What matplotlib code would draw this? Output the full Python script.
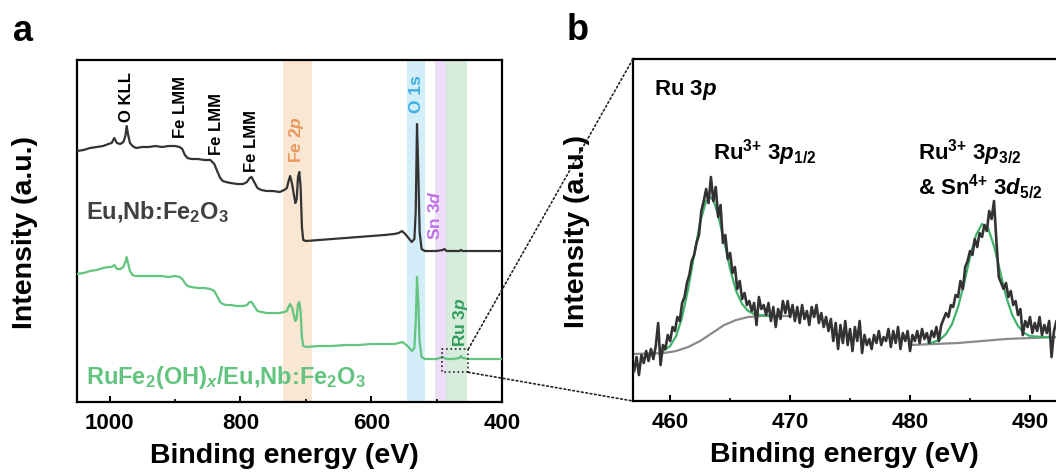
import numpy as np
import matplotlib
matplotlib.use("Agg")
import matplotlib.pyplot as plt
from matplotlib.patches import Rectangle, ConnectionPatch
from matplotlib.ticker import MultipleLocator

plt.rcParams["font.family"] = ["Liberation Sans", "DejaVu Sans"]
plt.rcParams["font.weight"] = "bold"
plt.rcParams["axes.labelweight"] = "bold"
plt.rcParams["mathtext.fontset"] = "custom"
plt.rcParams["mathtext.rm"] = "Liberation Sans:bold"
plt.rcParams["mathtext.it"] = "Liberation Sans:bold:italic"
plt.rcParams["mathtext.bf"] = "Liberation Sans:bold"

# ---- panel a: survey spectra (intensity in arbitrary units) ----
be_survey = [1050, 1040, 1030, 1020, 1010, 1002, 997, 993, 989, 984, 979, 976, 974, 972,
             969, 965, 960, 950, 940, 930, 920, 910, 900, 893, 889, 885, 881, 875, 865,
             855, 846, 840, 835, 831, 827, 822, 815, 805, 796, 790, 786, 783, 779, 774,
             768, 760, 750, 740, 733, 729, 726, 724, 721, 718, 716, 714, 712, 710, 708,
             706, 704, 700, 680, 660, 640, 620, 600, 580, 565, 558, 553, 548, 543, 538,
             534, 532, 530, 528, 526, 523, 518, 510, 500, 491, 488, 485, 475, 465, 463,
             460, 450, 430, 410, 400]
int_bare = [251, 252, 254, 255, 256, 258, 259, 264, 259, 258, 260, 266, 276, 268,
            259, 256, 254, 255, 255, 256, 255, 256, 256, 255, 253, 247, 244, 243, 243,
            242, 242, 238, 230, 224, 221, 220, 219, 218, 218, 220, 224, 225, 220, 214,
            212, 211, 211, 210, 212, 214, 222, 226, 218, 206, 199, 203, 225, 230, 215,
            175, 162, 161, 162, 163, 164, 165, 166, 167, 168, 169, 171, 168, 164, 160,
            163, 190, 278, 230, 170, 153, 151, 151, 151, 152, 153, 151, 151, 151, 152,
            151, 151, 151, 151, 151]
int_ru = [128, 129, 131, 132, 134, 135, 135, 137, 133, 133, 135, 140, 145, 139,
          131, 127, 126, 126, 126, 126, 126, 125, 126, 125, 123, 119, 116, 115, 114,
          114, 113, 111, 105, 100, 98, 97, 97, 96, 96, 97, 100, 100, 96, 91,
          90, 89, 89, 89, 90, 91, 96, 98, 94, 86, 81, 84, 98, 100, 90,
          65, 56, 55, 56, 56, 57, 57, 58, 58, 58, 59, 60, 58, 55, 51,
          54, 80, 125, 100, 60, 45, 43, 43, 43, 45, 44, 43, 43, 44, 46,
          44, 43, 43, 43, 43]

bands = [("Fe 2$p$", 735, 691, "#f9e2cc", "#e8985a", 714, 240),
         ("O 1s", 546, 518, "#cdebf8", "#3caee3", 530.5, 290),
         ("Sn 3$d$", 503, 482, "#ecd8f6", "#bf6fe6", 502.5, 163),
         ("Ru 3$p$", 486, 454, "#cfe9d7", "#2f9d5a", 464, 56)]
peak_labels = [("O KLL", 974, 281), ("Fe LMM", 892, 265),
               ("Fe LMM", 836, 248), ("Fe LMM", 783, 231)]

# ---- panel b: Ru 3p high-resolution scan ----
be_hr = np.round(np.arange(457.0, 492.5, 0.2), 1)
int_hr = [30, 44, 26, 46, 38, 50, 40, 52, 42, 55, 78, 36, 56, 52, 66, 60, 74, 70, 84, 80,
          98, 104, 118, 126, 140, 146, 158, 166, 190, 200, 212, 198, 224, 200, 214, 184, 196, 158, 166, 142,
          148, 128, 134, 112, 120, 102, 108, 96, 100, 90, 98, 76, 104, 92, 96, 86, 98, 80, 94, 74,
          92, 82, 100, 88, 100, 84, 96, 80, 94, 78, 96, 82, 90, 76, 94, 84, 96, 78, 88, 74,
          84, 70, 82, 60, 78, 52, 76, 58, 80, 56, 72, 50, 74, 60, 80, 48, 66, 56, 62, 52,
          66, 58, 70, 56, 64, 60, 72, 54, 70, 58, 74, 52, 68, 60, 70, 50, 66, 60, 70, 58,
          72, 62, 68, 58, 70, 64, 74, 60, 76, 82, 88, 84, 96, 94, 106, 104, 120, 112, 134, 140,
          150, 146, 162, 154, 168, 164, 176, 170, 190, 182, 200, 160, 124, 118, 112, 118, 104, 110, 96, 100,
          86, 92, 66, 80, 74, 84, 68, 78, 70, 84, 66, 76, 68, 80, 44, 70, 80, 66]

bg1_be = [456.9, 459.5, 460.5, 461.5, 462.5, 463.5, 464.5, 465.5, 466.5, 467.5, 470.0]
bg1_int = [47, 48, 50, 54, 60, 68, 76, 81, 84, 85, 85]
bg2_be = [480.0, 482.0, 484.0, 486.0, 488.0, 490.0, 492.5]
bg2_int = [56, 57, 58, 60, 62, 63, 64]
fit1_be = [459.3, 460.0, 460.5, 461.0, 461.5, 462.0, 462.5, 463.0, 463.3, 463.6, 464.0,
           464.5, 465.0, 465.5, 466.0, 466.5, 467.0, 467.5, 468.0, 468.5]
fit1_int = [49, 55, 65, 84, 112, 146, 179, 200, 204, 201, 186,
            160, 132, 110, 97, 90, 87, 86, 85.5, 85]
fit2_be = [481.5, 482.0, 482.5, 483.0, 483.5, 484.0, 484.5, 485.0, 485.5, 486.0, 486.5,
           487.0, 487.5, 488.0, 488.5, 489.0, 489.5, 490.0, 491.0, 491.5]
fit2_int = [57.5, 59, 61.5, 67, 77, 94, 117, 144, 166, 177, 173,
            155, 130, 105, 86.5, 75, 68, 65, 64, 64]

fig = plt.figure(figsize=(10.56, 4.77), dpi=100)
ax_a = fig.add_axes([0.0729, 0.1551, 0.4025, 0.7170])
ax_b = fig.add_axes([0.5994, 0.1572, 0.4214, 0.7170])

for name, hi, lo, fc, tc, tx, ty in bands:
    ax_a.axvspan(lo, hi, color=fc, alpha=0.85, lw=0, zorder=0)
    ax_a.text(tx, ty, name, rotation=90, ha="center", va="bottom",
              color=tc, fontsize=12.5)
for name, tx, ty in peak_labels:
    ax_a.text(tx, ty, name, rotation=90, ha="center", va="bottom",
              color="black", fontsize=12)

ax_a.plot(be_survey, int_bare, color="#333333", lw=1.6, zorder=3)
ax_a.plot(be_survey, int_ru, color="#62c47f", lw=1.6, zorder=3)
ax_a.text(1036, 191, "Eu,Nb:Fe$_2$O$_3$", color="#404040", fontsize=17, va="center")
ax_a.text(1036, 26, "RuFe$_2$(OH)$_x$/Eu,Nb:Fe$_2$O$_3$", color="#62c47f",
          fontsize=17, va="center")
ax_a.add_patch(Rectangle((451.5, 29.7), 40.5, 23.3, fill=False, ls=":", lw=1.2,
                         ec="#222222", zorder=4))

ax_a.set_xlim(1050, 400)
ax_a.set_ylim(0, 342)
ax_a.xaxis.set_major_locator(MultipleLocator(200))
ax_a.xaxis.set_minor_locator(MultipleLocator(100))
ax_a.set_yticks([])
ax_a.set_xlabel("Binding energy (eV)", fontsize=20.5)
ax_a.set_ylabel("Intensity (a.u.)", fontsize=20.5)
ax_a.xaxis.set_label_coords(0.489, -0.118)
ax_a.yaxis.set_label_coords(-0.092, 0.5)

ax_b.plot(bg1_be, bg1_int, color="#8a8a8a", lw=1.6, zorder=2)
ax_b.plot(bg2_be, bg2_int, color="#8a8a8a", lw=1.6, zorder=2)
ax_b.plot(fit1_be, fit1_int, color="#3fb26b", lw=1.6, zorder=2)
ax_b.plot(fit2_be, fit2_int, color="#3fb26b", lw=1.6, zorder=2)
ax_b.plot(be_hr, int_hr, color="#333333", lw=1.9, zorder=3)
ax_b.text(458.65, 312, "Ru 3$p$", fontsize=16, va="center")
ax_b.text(463.6, 249, "Ru$^{3{+}}$ 3$p_{1/2}$", fontsize=16, va="center")
ax_b.text(480.7, 249, "Ru$^{3{+}}$ 3$p_{3/2}$", fontsize=16, va="center")
ax_b.text(480.7, 215, "& Sn$^{4{+}}$ 3$d_{5/2}$", fontsize=16, va="center")
ax_b.set_xlim(456.9, 494)
ax_b.set_ylim(0, 342)
ax_b.xaxis.set_major_locator(MultipleLocator(10))
ax_b.xaxis.set_minor_locator(MultipleLocator(5))
ax_b.set_yticks([])
ax_b.set_xlabel("Binding energy (eV)", fontsize=20.5)
ax_b.set_ylabel("Intensity (a.u.)", fontsize=20.5)
ax_b.xaxis.set_label_coords(0.474, -0.118)
ax_b.yaxis.set_label_coords(-0.096, 0.5)

for ax in (ax_a, ax_b):
    for sp in ax.spines.values():
        sp.set_linewidth(1.6)
    ax.tick_params(axis="x", which="major", direction="in", length=4, width=1.4,
                   labelsize=16, pad=7)
    ax.tick_params(axis="x", which="minor", direction="in", length=2.5, width=1.2)

for xa, xb in [((451.5, 53), (0, 1)), ((451.5, 29.7), (0, 0))]:
    con = ConnectionPatch(xyA=xa, coordsA=ax_a.transData, xyB=xb, coordsB=ax_b.transAxes,
                          ls=":", lw=1.2, color="#222222")
    fig.add_artist(con)

fig.text(0.0218, 0.935, "a", fontsize=26, ha="center", va="center")
fig.text(0.547, 0.937, "b", fontsize=26, ha="center", va="center")

fig.savefig("out.png", dpi=100)
